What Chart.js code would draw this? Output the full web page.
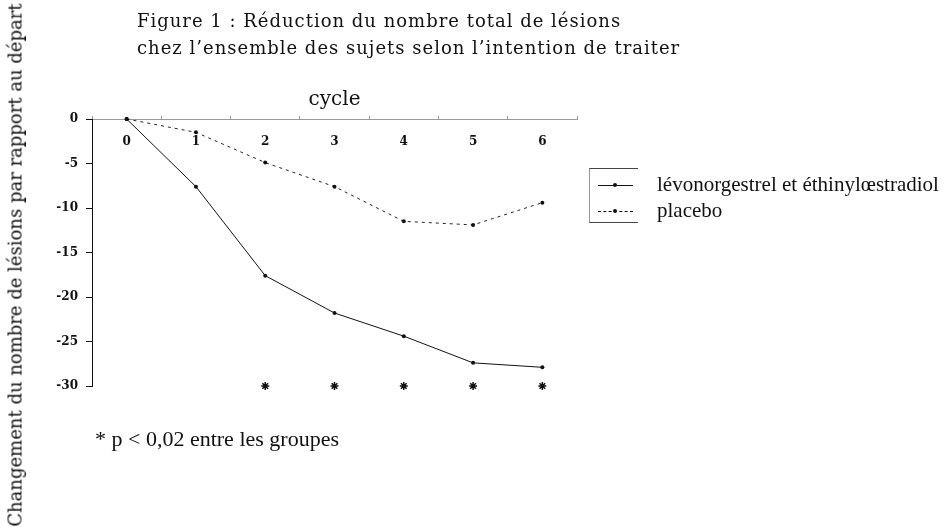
<!DOCTYPE html>
<html>
<head>
<meta charset="utf-8">
<script src="https://cdn.jsdelivr.net/npm/chart.js@4.4.1/dist/chart.umd.min.js"></script>
<style>
    body { margin: 0; background: #fff; }
    #wrap { position: relative; width: 946px; height: 527px; overflow: hidden; }
    #chart { position: absolute; left: 0; top: 0; }
    .fig-title {
        position: absolute; left: 137px; top: 7px;
        font-family: "DejaVu Serif", serif; font-size: 18px; line-height: 27px;
        letter-spacing: 1px; color: #111; white-space: nowrap;
    }
    .y-title {
        position: absolute; left: 15px; top: 265px;
        transform: translate(-50%, -50%) rotate(-90deg);
        font-family: "DejaVu Serif", serif; font-size: 18px;
        color: #111; white-space: nowrap;
    }
    .footnote {
        position: absolute; left: 95px; top: 426px;
        font-family: "Liberation Serif", serif; font-size: 22px;
        color: #111; white-space: nowrap;
    }
    .legend-box {
        position: absolute; left: 589px; top: 168px; width: 48px; height: 53px;
        border-left: 1px solid #999; border-top: 1px solid #444; border-bottom: 1px solid #444;
    }
    .legend-line { position: absolute; left: 8px; width: 35px; height: 0; }
    .legend-line.solid { top: 16px; border-top: 1px solid #111; }
    .legend-line.dashed { top: 42px; border-top: 1px dashed #111; }
    .legend-dot {
        position: absolute; left: 15px; top: -3px; width: 4px; height: 4px;
        background: #111; border-radius: 2px;
    }
    .legend-text {
        position: absolute; left: 657px;
        font-family: "Liberation Serif", serif; font-size: 21px;
        color: #111; white-space: nowrap;
    }
</style>
</head>
<body>
<div id="wrap">
    <canvas id="chart" width="946" height="527"></canvas>
    <div class="fig-title">Figure 1 : Réduction du nombre total de lésions<br>chez l’ensemble des sujets selon l’intention de traiter</div>
    <div class="y-title">Changement du nombre de lésions par rapport au départ</div>
    <div class="footnote">* p &lt; 0,02 entre les groupes</div>
    <div class="legend-box">
        <div class="legend-line solid"><div class="legend-dot"></div></div>
        <div class="legend-line dashed"><div class="legend-dot"></div></div>
    </div>
    <div class="legend-text" style="top: 172px;">lévonorgestrel et éthinylœstradiol</div>
    <div class="legend-text" style="top: 198px;">placebo</div>
</div>
<script>
// Data
const cycles = ['0', '1', '2', '3', '4', '5', '6'];
const levonorgestrel = [0, -7.6, -17.6, -21.8, -24.4, -27.4, -27.9];
const placebo = [0, -1.5, -4.9, -7.6, -11.5, -11.9, -9.4];
const significant = [null, null, -30, -30, -30, -30, -30];
const yTicks = [0, -5, -10, -15, -20, -25, -30];

const tickFont = { family: 'DejaVu Serif', size: 12, weight: 'bold' };

const ctx = document.getElementById('chart').getContext('2d');
const chart = new Chart(ctx, {
    type: 'line',
    data: {
        labels: cycles,
        datasets: [
            {
                label: 'lévonorgestrel et éthinylœstradiol',
                data: levonorgestrel,
                borderColor: '#111',
                backgroundColor: '#111',
                borderWidth: 1,
                pointRadius: 2,
                pointBorderWidth: 0,
                tension: 0,
                clip: false
            },
            {
                label: 'placebo',
                data: placebo,
                borderColor: '#222',
                backgroundColor: '#111',
                borderWidth: 1,
                borderDash: [3, 4],
                pointRadius: 2,
                pointBorderWidth: 0,
                tension: 0,
                clip: false
            },
            {
                label: 'p < 0,02',
                data: significant,
                showLine: false,
                pointStyle: 'star',
                pointRadius: 4,
                pointBorderWidth: 1.5,
                borderColor: '#111',
                backgroundColor: '#111',
                clip: false
            }
        ]
    },
    options: {
        responsive: false,
        animation: false,
        events: [],
        layout: { padding: { left: 0, top: 0, right: 369, bottom: 141 } },
        plugins: {
            legend: { display: false },
            tooltip: { enabled: false }
        },
        scales: {
            x: {
                position: 'top',
                offset: true,
                grid: {
                    offset: true,
                    drawOnChartArea: false,
                    tickLength: 3,
                    color: '#999'
                },
                border: { color: '#999', width: 1 },
                ticks: {
                    mirror: true,
                    padding: 16,
                    color: '#111',
                    font: tickFont
                },
                title: {
                    display: true,
                    text: 'cycle',
                    color: '#111',
                    font: { family: 'DejaVu Serif', size: 20 },
                    padding: { top: 88, bottom: 0 }
                },
                afterFit: scale => { scale.height = 119; }
            },
            y: {
                min: yTicks[yTicks.length - 1],
                max: yTicks[0],
                afterBuildTicks: scale => {
                    scale.ticks = yTicks.map(v => ({ value: v }));
                },
                grid: {
                    drawOnChartArea: false,
                    tickLength: 6,
                    color: '#111'
                },
                border: { color: '#111', width: 1 },
                ticks: {
                    padding: 8,
                    color: '#111',
                    font: tickFont
                },
                afterFit: scale => { scale.width = 92; }
            }
        }
    }
});
</script>
</body>
</html>
